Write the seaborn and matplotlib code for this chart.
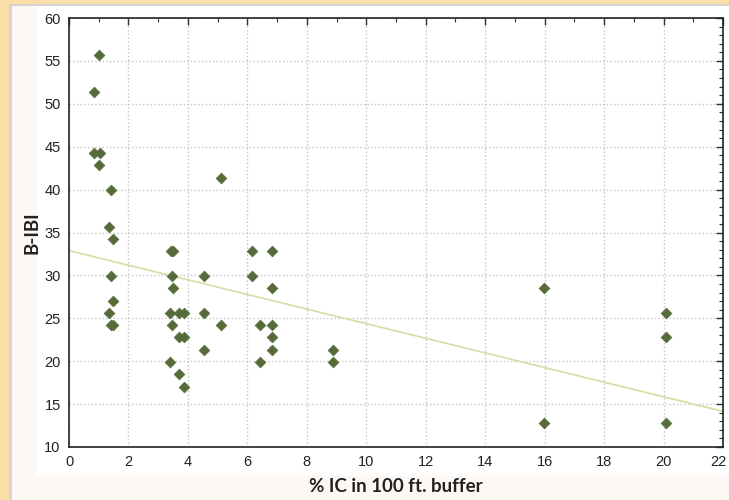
import numpy as np
import pandas as pd
import matplotlib
matplotlib.use("Agg")
import matplotlib.pyplot as plt
from matplotlib.patches import Rectangle
from matplotlib.ticker import MultipleLocator, FuncFormatter
import seaborn as sns

# % impervious cover in 100 ft buffer vs B-IBI score
ic_pct = [0.84, 1.01, 0.84, 1.04, 1.01, 1.41, 1.35, 1.48, 1.41, 1.48, 1.35, 1.41, 1.48,
          3.43, 3.50, 3.46, 3.50, 3.40, 3.46, 3.40, 3.70, 3.87, 3.70, 3.87, 3.70, 3.87,
          4.54, 4.54, 4.54, 5.11, 5.11,
          6.16, 6.16, 6.83, 6.83, 6.42, 6.83, 6.83, 6.83, 6.42,
          8.88, 8.88, 15.98, 15.98, 20.08, 20.08, 20.08]
bibi = [51.4, 55.7, 44.3, 44.3, 42.9, 40.0, 35.6, 34.2, 29.9, 27.0, 25.6, 24.2, 24.2,
        32.8, 32.8, 29.9, 28.5, 25.6, 24.2, 19.9, 25.6, 25.6, 22.8, 22.8, 18.5, 17.0,
        29.9, 25.6, 21.3, 41.4, 24.2,
        32.8, 29.9, 32.8, 28.5, 24.2, 24.2, 22.8, 21.3, 19.9,
        21.3, 19.9, 28.5, 12.8, 25.6, 22.8, 12.8]

df = pd.DataFrame({"ic": ic_pct, "bibi": bibi})

sns.set_style("white")
plt.rcParams["font.family"] = ["Liberation Sans", "DejaVu Sans"]

fig = plt.figure(figsize=(7.29, 5.00), dpi=100)
fig.patch.set_facecolor("#fadfa6")

W, H = 729, 500
# cream panel, gray edge, white chart area
fig.patches.append(Rectangle((9 / W, 0), 1, 1 - 4 / H, transform=fig.transFigure,
                             facecolor="#d4d4d4", edgecolor="none", zorder=-3))
fig.patches.append(Rectangle((12 / W, 0), 1, 1 - 6 / H, transform=fig.transFigure,
                             facecolor="#fdf8f4", edgecolor="none", zorder=-2))
fig.patches.append(Rectangle((37 / W, 24 / H), 1, 1 - 30 / H, transform=fig.transFigure,
                             facecolor="white", edgecolor="none", zorder=-1))

ax = fig.add_axes([69 / W, 1 - 447 / H, (723 - 69) / W, (447 - 18) / H])
ax.set_facecolor("white")
ax.set_xlim(0, 22)
ax.set_ylim(10, 60)

sns.regplot(data=df, x="ic", y="bibi", ax=ax, ci=None, truncate=False, marker="D",
            scatter_kws=dict(s=30, color="#566b3a", edgecolor="#566b3a", alpha=1,
                             linewidths=0.5, zorder=3),
            line_kws=dict(color="#cfe0a4", lw=1.2, zorder=2))

ax.set_xlim(0, 22)
ax.set_ylim(10, 60)
ax.xaxis.set_major_locator(MultipleLocator(2))
ax.xaxis.set_minor_locator(MultipleLocator(1))
ax.yaxis.set_major_locator(MultipleLocator(5))
ax.yaxis.set_minor_locator(MultipleLocator(1))
# the last x label is drawn separately so it stays inside the figure
ax.xaxis.set_major_formatter(FuncFormatter(lambda v, p: "" if v >= 22 else f"{v:.0f}"))
ax.tick_params(which="both", direction="in", top=True, right=True, color="#333333",
               labelsize=10.5, labelcolor="#222222")
ax.tick_params(which="major", length=5, width=1, pad=6)
ax.tick_params(which="minor", length=3, width=0.8)
ax.grid(True, which="major", linestyle=":", color="#c4c4c4", linewidth=1)
for s in ax.spines.values():
    s.set_visible(True)
    s.set_color("#222222")
    s.set_linewidth(1.2)

ax.annotate("22", xy=(22, 0), xycoords=ax.get_xaxis_transform(),
            xytext=(-3, -6), textcoords="offset points", ha="center", va="top",
            fontsize=10.5, color="#222222")

ax.set_xlabel("% IC in 100 ft. buffer", fontsize=13.5, fontweight="bold",
              family=["Lato", "DejaVu Sans"], color="#222222", labelpad=6)
ax.set_ylabel("B-IBI", fontsize=13.5, fontweight="bold",
              family=["Lato", "DejaVu Sans"], color="#222222", labelpad=3)

fig.savefig("out.png", dpi=100, facecolor=fig.get_facecolor())
